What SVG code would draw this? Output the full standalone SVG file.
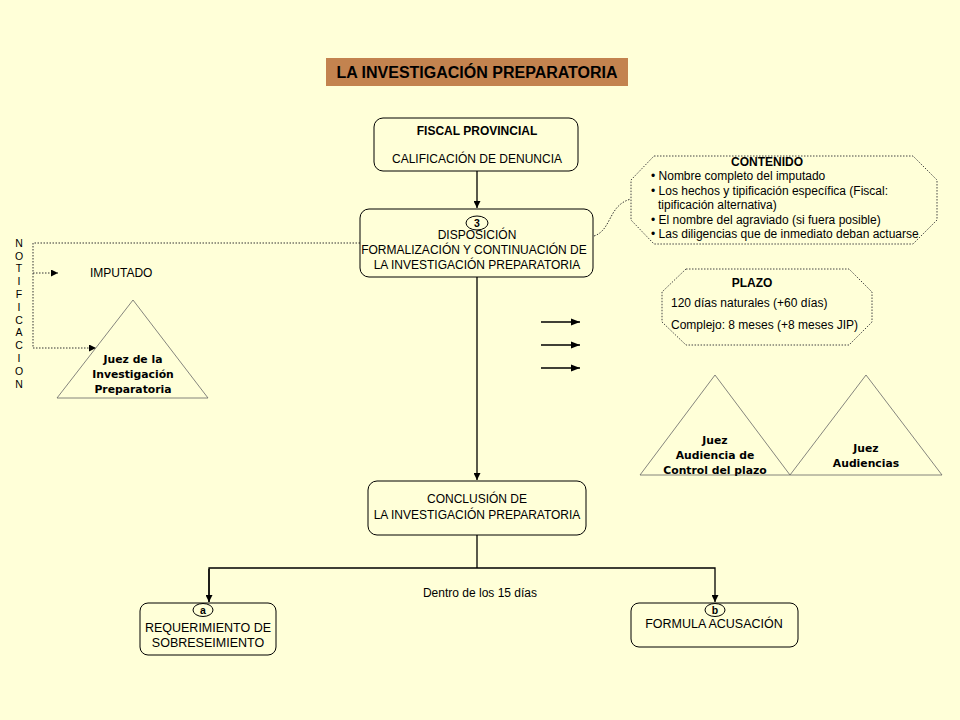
<svg xmlns="http://www.w3.org/2000/svg" width="960" height="720" viewBox="0 0 960 720">
<style>
text{font-family:"Liberation Sans",Arial,sans-serif;font-size:12px;fill:#000}
.c{text-anchor:middle}
.b{font-weight:bold}
.n{font-size:10.5px;text-anchor:middle}
.v{font-family:"DejaVu Sans",Verdana,sans-serif;font-size:10.8px;font-weight:bold;text-anchor:middle}
.box{fill:#FFFFD8;stroke:#000;stroke-width:1}
.oct{fill:none;stroke:#444;stroke-width:1;stroke-dasharray:1.5 1.5}
.tri{fill:none;stroke:#666;stroke-width:0.8}
.ln{fill:none;stroke:#000;stroke-width:1.3}
.dot{fill:none;stroke:#333;stroke-width:1;stroke-dasharray:1.5 1.5}
</style>
<defs>
<marker id="ah" viewBox="0 0 10 10" refX="10" refY="5" markerWidth="7" markerHeight="7" markerUnits="userSpaceOnUse" orient="auto"><path d="M0,0L10,5L0,10z" fill="#000"/></marker>
<marker id="ah2" viewBox="0 0 10 10" refX="10" refY="5" markerWidth="9" markerHeight="9" markerUnits="userSpaceOnUse" orient="auto"><path d="M0,1L10,5L0,9z" fill="#000"/></marker>
</defs>
<rect width="960" height="720" fill="#FFFFD8"/>

<g id="title">
<rect x="326" y="58" width="302" height="28" fill="#C3834F"/>
<text x="477" y="78" class="c b" style="font-size:16px">LA INVESTIGACIÓN PREPARATORIA</text>
</g>

<g id="connectors">
<line class="ln" x1="477" y1="171" x2="477" y2="208" marker-end="url(#ah)"/>
<line class="ln" x1="477" y1="277" x2="477" y2="480" marker-end="url(#ah)"/>
<polyline class="ln" points="477,535 477,568"/>
<polyline class="ln" points="209,602 209,568 715,568 715,602" marker-end="url(#ah)"/>
<line class="ln" x1="209" y1="569" x2="209" y2="602" marker-end="url(#ah)"/>
<path class="dot" d="M594,236 C612,230 608,205 631,199"/>
<polyline class="dot" points="360,243 33,243 33,348 96,348" marker-end="url(#ah)"/>
<line class="dot" x1="33" y1="273" x2="58" y2="273" marker-end="url(#ah)"/>
<line class="ln" x1="541" y1="322" x2="580" y2="322" marker-end="url(#ah2)"/>
<line class="ln" x1="541" y1="345" x2="580" y2="345" marker-end="url(#ah2)"/>
<line class="ln" x1="541" y1="368" x2="580" y2="368" marker-end="url(#ah2)"/>
</g>

<g id="fiscal">
<rect class="box" x="374" y="118" width="204" height="53" rx="9"/>
<text x="477" y="135" class="c b">FISCAL  PROVINCIAL</text>
<text x="477" y="163" class="c">CALIFICACIÓN DE DENUNCIA</text>
</g>

<g id="disposicion">
<rect class="box" x="360" y="209" width="233" height="68" rx="9"/>
<ellipse cx="477" cy="223" rx="11" ry="7" fill="#FFFFD8" stroke="#000"/>
<text x="477" y="227" class="c b" style="font-size:10.5px">3</text>
<text x="477" y="239" class="c">DISPOSICIÓN</text>
<text x="474" y="254" class="c">FORMALIZACIÓN Y CONTINUACIÓN DE</text>
<text x="477" y="269" class="c">LA INVESTIGACIÓN PREPARATORIA</text>
</g>

<g id="contenido">
<polygon class="oct" points="654,156 913,156 937,180 937,220 913,244 654,244 631,220 631,180"/>
<text x="767" y="166" class="c b">CONTENIDO</text>
<text x="651" y="180">• Nombre completo del imputado</text>
<text x="651" y="195">• Los hechos y tipificación específica (Fiscal:</text>
<text x="658" y="209">tipificación alternativa)</text>
<text x="651" y="224">• El nombre del agraviado (si fuera posible)</text>
<text x="651" y="238">• Las diligencias que de inmediato deban actuarse</text>
</g>

<g id="plazo">
<polygon class="oct" points="686,269 849,269 872,292 872,322 849,345 686,345 662,322 662,292"/>
<text x="752" y="287" class="c b">PLAZO</text>
<text x="671" y="307">120 días naturales (+60 días)</text>
<text x="671" y="329">Complejo: 8 meses (+8 meses JIP)</text>
</g>

<g id="notificacion">
<text x="19" y="247" class="n">N</text>
<text x="19" y="260" class="n">O</text>
<text x="19" y="272" class="n">T</text>
<text x="19" y="285" class="n">I</text>
<text x="19" y="298" class="n">F</text>
<text x="19" y="311" class="n">I</text>
<text x="19" y="324" class="n">C</text>
<text x="19" y="336" class="n">A</text>
<text x="19" y="349" class="n">C</text>
<text x="19" y="362" class="n">I</text>
<text x="19" y="375" class="n">O</text>
<text x="19" y="388" class="n">N</text>
</g>

<g id="imputado">
<text x="90" y="277">IMPUTADO</text>
</g>

<g id="juez-ip">
<polygon class="tri" points="133,300 208,398 57,398"/>
<text x="133" y="363" class="v">Juez de la</text>
<text x="133" y="378" class="v">Investigación</text>
<text x="133" y="393" class="v">Preparatoria</text>
</g>

<g id="juez-control">
<polygon class="tri" points="715,375 790,475 640,475"/>
<text x="715" y="444" class="v">Juez</text>
<text x="715" y="459" class="v">Audiencia de</text>
<text x="715" y="474" class="v">Control del plazo</text>
</g>

<g id="juez-audiencias">
<polygon class="tri" points="866,375 942,475 790,475"/>
<text x="866" y="452" class="v">Juez</text>
<text x="866" y="467" class="v">Audiencias</text>
</g>

<g id="conclusion">
<rect class="box" x="368" y="481" width="218" height="54" rx="9"/>
<text x="477" y="503" class="c">CONCLUSIÓN DE</text>
<text x="477" y="519" class="c">LA INVESTIGACIÓN PREPARATORIA</text>
</g>

<g id="dentro">
<text x="480" y="597" class="c">Dentro de los 15 días</text>
</g>

<g id="sobreseimiento">
<rect class="box" x="140" y="603" width="136" height="52" rx="8"/>
<ellipse cx="203" cy="610" rx="10" ry="6.5" fill="#FFFFD8" stroke="#000"/>
<text x="203" y="614" class="c b" style="font-size:10.5px">a</text>
<text x="208" y="632" class="c" style="font-size:12.5px">REQUERIMIENTO  DE</text>
<text x="208" y="647" class="c" style="font-size:12.5px">SOBRESEIMIENTO</text>
</g>

<g id="acusacion">
<rect class="box" x="631" y="603" width="167" height="44" rx="8"/>
<ellipse cx="715" cy="610" rx="10" ry="6.5" fill="#FFFFD8" stroke="#000"/>
<text x="715" y="614" class="c b" style="font-size:10.5px">b</text>
<text x="714" y="628" class="c" style="font-size:12.5px">FORMULA ACUSACIÓN</text>
</g>
</svg>
